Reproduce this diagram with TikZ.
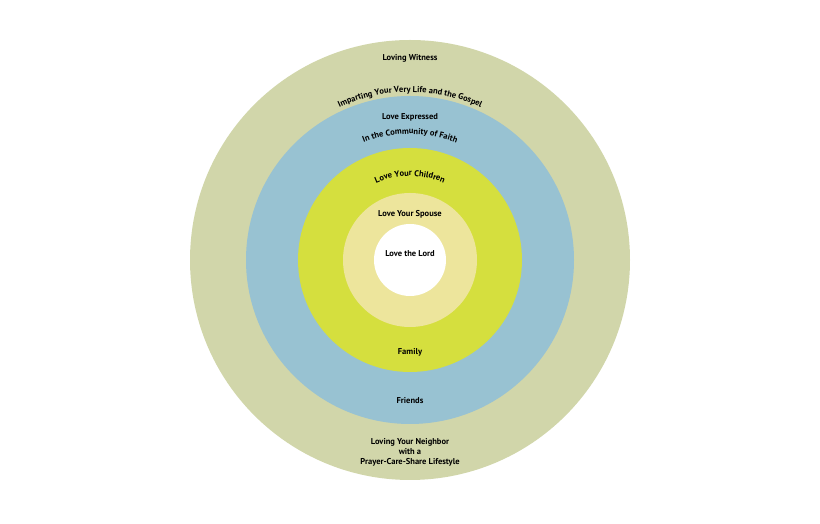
\documentclass[tikz,border=0pt]{standalone}
\usepackage{fontspec}
\setmainfont{PT Sans}
\usetikzlibrary{calc,decorations.text}
\definecolor{ringwitness}{HTML}{D1D6AA}
\definecolor{ringfaith}{HTML}{98C2D2}
\definecolor{ringfamily}{HTML}{D5DF3E}
\definecolor{ringspouse}{HTML}{EDE59C}
\tikzset{lbl/.style={font=\bfseries\fontsize{8.5}{10}\selectfont, align=center},
  arclbl/.style={decorate, decoration={text along path, text align=center,
    text={|\bfseries\fontsize{8.5}{10}\selectfont|#1}}}}
\begin{document}
\begin{tikzpicture}[x=1pt, y=1pt]
\useasboundingbox (0,0) rectangle (820,524);
\coordinate (c) at (410,264);

\begin{scope}
  \fill [ringwitness] (c) circle (220);
  \fill [ringfaith] (c) circle (164);
  \fill [ringfamily] (c) circle (112);
  \fill [ringspouse] (c) circle (67);
  \fill [white] (c) circle (36);
\end{scope}

\node [lbl] (witness) at (410,466) {Loving Witness};
\path [arclbl={Imparting Your Very Life and the Gospel}]
  ($(c)+(125:168)$) arc (125:55:168);
\node [lbl] (expressed) at (410,407) {Love Expressed};
\path [arclbl={In the Community of Faith}]
  ($(c)+(125:126)$) arc (125:55:126);
\path [arclbl={Love Your Children}]
  ($(c)+(130:84)$) arc (130:50:84);
\node [lbl] (spouse) at (410,310) {Love Your Spouse};
\node [lbl] (lord) at (410,270) {Love the Lord};
\node [lbl] (family) at (410,172) {Family};
\node [lbl] (friends) at (410,123) {Friends};
\node [lbl] (neighbor) at (410,72) {Loving Your Neighbor\\with a\\Prayer-Care-Share Lifestyle};
\end{tikzpicture}
\end{document}
